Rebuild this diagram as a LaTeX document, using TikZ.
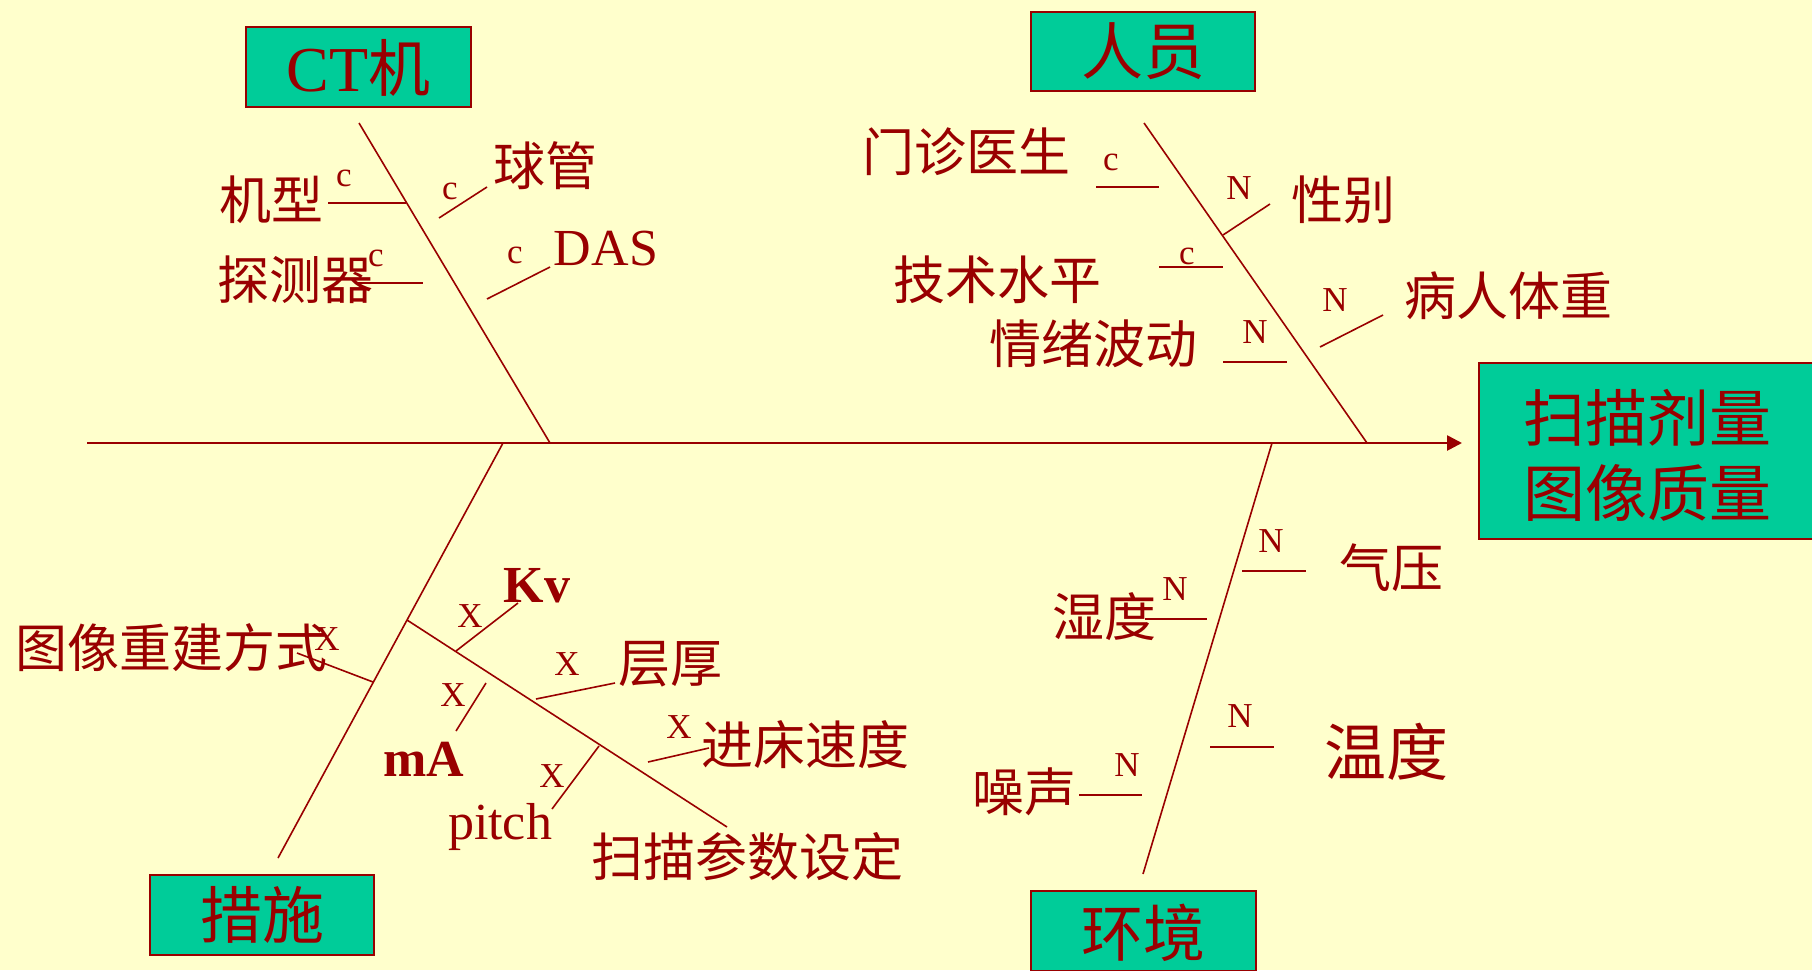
\documentclass[tikz,border=0pt]{standalone}
\usepackage{fontspec}
\setmainfont{Liberation Serif}
\newfontfamily\cjk{Noto Sans CJK SC}
\usetikzlibrary{arrows.meta}
\definecolor{dred}{RGB}{153,0,0}
\definecolor{bgyellow}{RGB}{255,255,204}
\definecolor{boxgreen}{RGB}{0,204,153}
\tikzset{
  bone/.style={draw=dred, line width=1.6pt},
  spine/.style={draw=dred, line width=2.6pt},
  catbox/.style={draw=dred, line width=2.2pt, fill=boxgreen, inner sep=0pt},
  cattext/.style={text=dred, inner sep=0pt, font=\cjk\fontsize{62}{66}\selectfont},
  lbl/.style={text=dred, inner sep=0pt, font=\cjk\fontsize{52}{56}\selectfont},
  biglbl/.style={text=dred, inner sep=0pt, font=\cjk\fontsize{62}{66}\selectfont},
  latin/.style={text=dred, inner sep=0pt, anchor=base, font=\fontsize{52}{56}\selectfont},
  latinb/.style={text=dred, inner sep=0pt, anchor=base, font=\bfseries\fontsize{52}{56}\selectfont},
  tag/.style={text=dred, inner sep=0pt, font=\fontsize{35}{38}\selectfont},
}
\begin{document}
\begin{tikzpicture}[x=1pt,y=-1pt]
\useasboundingbox (0,0) rectangle (1812,970);
\fill[bgyellow] (0,0) rectangle (1812,970);

% ---------- boxes ----------
\node[catbox, minimum width=225pt, minimum height=80pt] (ctbox) at (358.5,67) {};
\node[text=dred, inner sep=0pt, anchor=base, font=\fontsize{64}{68}\selectfont] (cttxt) at (358.5,91) {CT{\cjk\fontsize{62}{66}\selectfont 机}};
\node[catbox, minimum width=224pt, minimum height=79pt] (rybox) at (1143,51.5) {};
\node[cattext] (rytxt) at (1143,51.5) {人员};
\node[catbox, minimum width=224pt, minimum height=80pt] (csbox) at (262,915) {};
\node[cattext] (cstxt) at (262,915) {措施};
\node[catbox, minimum width=225pt, minimum height=80pt] (hjbox) at (1143.5,931) {};
\node[cattext] (hjtxt) at (1143.5,933) {环境};
\node[catbox, minimum width=336pt, minimum height=176pt] (effbox) at (1647,451) {};
\node[text=dred, inner sep=0pt, align=center, font=\cjk\fontsize{62}{75}\selectfont] (efftxt) at (1647,455.5) {扫描剂量\\图像质量};

% ---------- spine ----------
\coordinate (sp0) at (87,443);
\coordinate (sp1) at (1462,443);
\draw[spine, -{Triangle[length=15pt,width=15pt]}] (sp0) -- (sp1);

% ---------- main bones ----------
\coordinate (ct0) at (359,123);   \coordinate (ct1) at (550,443);
\coordinate (ry0) at (1144,123);  \coordinate (ry1) at (1367,443);
\coordinate (cs0) at (503,443);   \coordinate (cs1) at (278,858);
\coordinate (hj0) at (1272,443);  \coordinate (hj1) at (1143,874);
\draw[bone] (ct0) -- (ct1);
\draw[bone] (ry0) -- (ry1);
\draw[bone] (cs0) -- (cs1);
\draw[bone] (hj0) -- (hj1);

% ---------- CT machine ----------
\coordinate (a1) at (328,203); \coordinate (a2) at (406,203);
\coordinate (b1) at (357,283); \coordinate (b2) at (423,283);
\coordinate (c1) at (439,218); \coordinate (c2) at (487,187);
\coordinate (d1) at (487,299); \coordinate (d2) at (550,267);
\draw[bone] (a1) -- (a2);
\draw[bone] (b1) -- (b2);
\draw[bone] (c1) -- (c2);
\draw[bone] (d1) -- (d2);
\node[lbl] (jixing) at (271,200) {机型};
\node[tag] (tjx) at (344,178) {c};
\node[lbl] (tcq) at (295,280) {探测器};
\node[tag] (ttcq) at (376,258) {c};
\node[lbl] (qg) at (545,166) {球管};
\node[tag] (tqg) at (450,191) {c};
\node[latin] (das) at (606,265) {DAS};
\node[tag] (tdas) at (515,255) {c};

% ---------- staff ----------
\coordinate (e1) at (1096,187); \coordinate (e2) at (1159,187);
\coordinate (f1) at (1223,235); \coordinate (f2) at (1270,204);
\coordinate (g1) at (1159,267); \coordinate (g2) at (1223,267);
\coordinate (h1) at (1223,362); \coordinate (h2) at (1287,362);
\coordinate (i1) at (1320,347); \coordinate (i2) at (1383,315);
\draw[bone] (e1) -- (e2);
\draw[bone] (f1) -- (f2);
\draw[bone] (g1) -- (g2);
\draw[bone] (h1) -- (h2);
\draw[bone] (i1) -- (i2);
\node[lbl] (mzys) at (966,152) {门诊医生};
\node[tag] (tmzys) at (1111,162) {c};
\node[lbl] (xb) at (1343,200) {性别};
\node[tag] (txb) at (1239,188) {N};
\node[lbl] (jssp) at (997,280) {技术水平};
\node[tag] (tjssp) at (1187,256) {c};
\node[lbl] (qxbd) at (1093,344) {情绪波动};
\node[tag] (tqxbd) at (1255,332) {N};
\node[lbl] (brtz) at (1508,296) {病人体重};
\node[tag] (tbrtz) at (1335,300) {N};

% ---------- measures ----------
\coordinate (br0) at (407,620); \coordinate (br1) at (727,827);
\draw[bone] (br0) -- (br1);
\coordinate (j1) at (297,653); \coordinate (j2) at (373,682);
\coordinate (k1) at (456,651); \coordinate (k2) at (518,603);
\coordinate (l1) at (536,699); \coordinate (l2) at (615,683);
\coordinate (m1) at (486,683); \coordinate (m2) at (456,731);
\coordinate (n1) at (648,762); \coordinate (n2) at (709,748);
\coordinate (o1) at (552,809); \coordinate (o2) at (599,746);
\draw[bone] (j1) -- (j2);
\draw[bone] (k1) -- (k2);
\draw[bone] (l1) -- (l2);
\draw[bone] (m1) -- (m2);
\draw[bone] (n1) -- (n2);
\draw[bone] (o1) -- (o2);
\node[lbl] (txcj) at (172,648) {图像重建方式};
\node[tag] (ttxcj) at (327,639) {X};
\node[latinb] (kv) at (537,602) {Kv};
\node[tag] (tkv) at (470,616) {X};
\node[lbl] (ch) at (670,664) {层厚};
\node[tag] (tch) at (567,664) {X};
\node[latinb] (ma) at (424,776) {mA};
\node[tag] (tma) at (453,695) {X};
\node[lbl] (jcsd) at (805,745) {进床速度};
\node[tag] (tjcsd) at (679,727) {X};
\node[latin] (pitch) at (500,839) {pitch};
\node[tag] (tpitch) at (552,776) {X};
\node[lbl] (smcs) at (747,857) {扫描参数设定};

% ---------- environment ----------
\coordinate (p1) at (1242,571); \coordinate (p2) at (1306,571);
\coordinate (q1) at (1145,619); \coordinate (q2) at (1207,619);
\coordinate (r1) at (1210,747); \coordinate (r2) at (1274,747);
\coordinate (s1) at (1079,795); \coordinate (s2) at (1142,795);
\draw[bone] (p1) -- (p2);
\draw[bone] (q1) -- (q2);
\draw[bone] (r1) -- (r2);
\draw[bone] (s1) -- (s2);
\node[lbl] (qy) at (1391,568) {气压};
\node[tag] (tqy) at (1271,541) {N};
\node[lbl] (sd) at (1104,617) {湿度};
\node[tag] (tsd) at (1175,589) {N};
\node[biglbl] (wd) at (1386,752) {温度};
\node[tag] (twd) at (1240,716) {N};
\node[lbl] (zs) at (1024,792) {噪声};
\node[tag] (tzs) at (1127,765) {N};
\end{tikzpicture}
\end{document}
